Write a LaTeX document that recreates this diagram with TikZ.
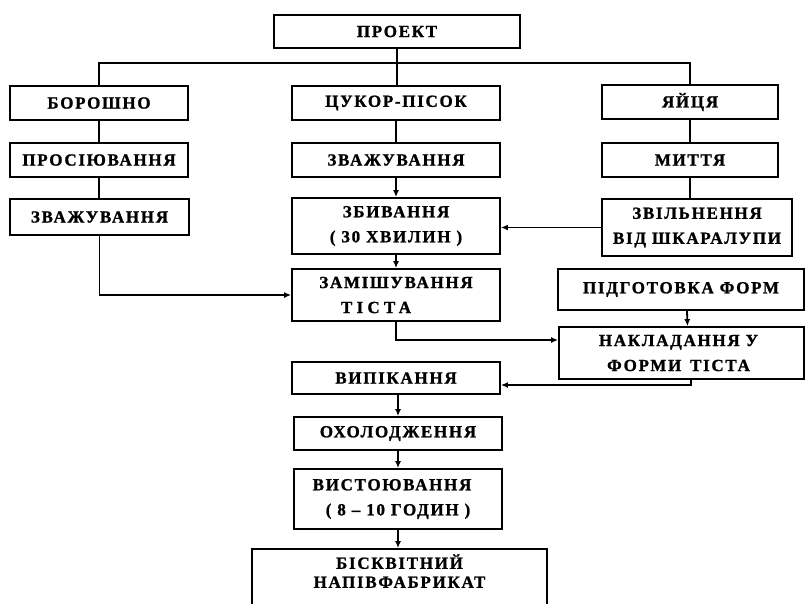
\documentclass[tikz,border=0pt]{standalone}
\usepackage{fontspec}
\setmainfont{Liberation Serif}[LetterSpace=10, BoldFont={Liberation Serif Bold}, BoldFeatures={FakeBold=1.2}]
\usetikzlibrary{arrows.meta}

\tikzset{
  box/.style={draw, line width=1.8pt, rectangle, inner sep=2pt, align=center,
    font=\fontsize{17}{25}\selectfont\bfseries},
  link/.style={line width=1.8pt},
  flow/.style={link, -{Latex[length=7pt,width=6pt]}},
}

\begin{document}
\begin{tikzpicture}[x=1pt, y=-1pt]
\useasboundingbox (0,0) rectangle (805,603);

% top of the scheme
\node[box, minimum width=246pt, minimum height=33pt] (proekt) at (397,31.5) {ПРОЕКТ};

% three raw materials
\node[box, minimum width=178pt, minimum height=34pt] (boroshno) at (99,103) {БОРОШНО};
\node[box, minimum width=208pt, minimum height=34pt] (cukor) at (396,103) {ЦУКОР-ПІСОК};
\node[box, minimum width=176pt, minimum height=34pt] (yaytsia) at (690,102) {ЯЙЦЯ};

% preparation steps
\node[box, minimum width=178pt, minimum height=34pt] (prosiyuv) at (99,160) {ПРОСІЮВАННЯ};
\node[box, minimum width=208pt, minimum height=34pt] (zvazhc) at (396,160) {ЗВАЖУВАННЯ};
\node[box, minimum width=176pt, minimum height=34pt] (myttia) at (690,160) {МИТТЯ};

\node[box, minimum width=179pt, minimum height=36pt] (zvazhl) at (99.5,217) {ЗВАЖУВАННЯ};
\node[box, minimum width=208pt, minimum height=56pt] (zbyv) at (396,226) {ЗБИВАННЯ\\( 30 ХВИЛИН )};
\node[box, minimum width=190pt, minimum height=57pt] (zviln) at (697,227.5) {ЗВІЛЬНЕННЯ\\ВІД ШКАРАЛУПИ};

\node[box, minimum width=208pt, minimum height=52pt] (zamish) at (396,295) {ЗАМІШУВАННЯ\\{\addfontfeature{LetterSpace=25}ТІСТА}\hspace*{40pt}};
\node[box, minimum width=246pt, minimum height=41pt] (pidgot) at (681,289.5) {ПІДГОТОВКА ФОРМ};
\node[box, minimum width=245pt, minimum height=52pt] (nakl) at (681.5,353) {НАКЛАДАННЯ У\hspace*{6pt}\\ФОРМИ\, ТІСТА\hspace*{6pt}};

% baking line
\node[box, minimum width=208pt, minimum height=32pt] (vypik) at (396,378) {ВИПІКАННЯ};
\node[box, minimum width=208pt, minimum height=33pt] (okhol) at (398,433.5) {ОХОЛОДЖЕННЯ};
\node[box, minimum width=208pt, minimum height=60pt] (vystoy) at (398,499) {ВИСТОЮВАННЯ\hspace*{12pt}\\( 8 -- 10 ГОДИН )};
\node[draw, line width=1.8pt, minimum width=295pt, minimum height=71pt] (bisk) at (399.5,584.5) {};
\node[align=center, font=\fontsize{17}{19}\selectfont\bfseries, anchor=north, inner sep=2pt]
  (bisktext) at ([yshift=-4pt]bisk.north) {БІСКВІТНИЙ\\НАПІВФАБРИКАТ};

% distribution from the project
\coordinate (bus) at (397,63);
\draw[link] (proekt.south) -- (proekt.south |- cukor.north);
\draw[link] (boroshno.north) |- (bus) -| (yaytsia.north);

% plain links in the columns
\draw[link] (boroshno) -- (prosiyuv);
\draw[link] (prosiyuv) -- (prosiyuv.south |- zvazhl.north);
\draw[link] (cukor) -- (zvazhc);
\draw[link] (yaytsia) -- (myttia);
\draw[link] (myttia.south) -- (myttia.south |- zviln.north);

% arrows of the process
\draw[flow] (zvazhc) -- (zbyv);
\draw[flow] (zbyv) -- (zamish);
\draw[flow] (zviln.west) -- (zbyv.east |- zviln.west);
\draw[flow] (zvazhl.south) |- (zamish.west);
\draw[flow] (zamish.south) |- ([yshift=13pt]nakl.west);
\draw[flow] ([xshift=6pt]pidgot.south) -- ([xshift=6pt]nakl.north);
\draw[flow] ([xshift=9.5pt]nakl.south) |- ([yshift=-7pt]vypik.east);
\draw[flow] (vypik.south -| okhol.north) -- (okhol.north);
\draw[flow] (okhol) -- (vystoy);
\draw[flow] (vystoy) -- (vystoy.south |- bisk.north);
\end{tikzpicture}
\end{document}
